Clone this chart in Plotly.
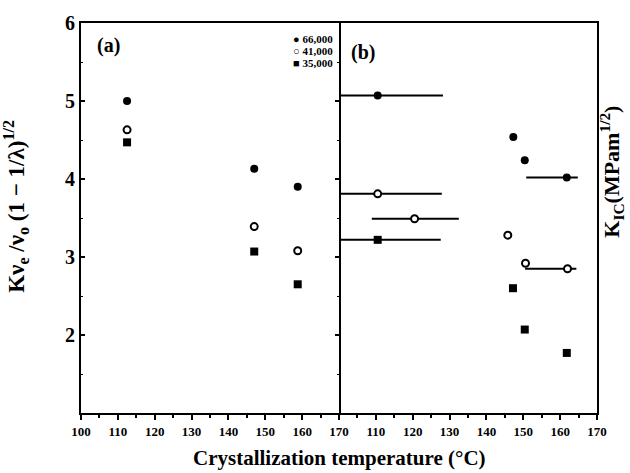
import plotly.graph_objects as go

# ---- data ----
series_names = ["66,000", "41,000", "35,000"]
series_symbols = ["circle", "circle", "square"]
series_fill = ["black", "white", "black"]

# panel (a)
a_x = {
    "66,000": [112.5, 147, 158.8],
    "41,000": [112.5, 147, 158.8],
    "35,000": [112.5, 147, 158.8],
}
a_y = {
    "66,000": [5.0, 4.13, 3.90],
    "41,000": [4.63, 3.39, 3.08],
    "35,000": [4.47, 3.07, 2.65],
}

# panel (b)
b_x = {
    "66,000": [110.5, 147.3, 150.4, 161.8],
    "41,000": [110.5, 120.5, 145.8, 150.6, 162.0],
    "35,000": [110.5, 147.2, 150.4, 161.8],
}
b_y = {
    "66,000": [5.07, 4.54, 4.24, 4.02],
    "41,000": [3.81, 3.49, 3.28, 2.92, 2.85],
    "35,000": [3.22, 2.60, 2.07, 1.77],
}

# horizontal range lines in panel (b)
seg_y = [5.07, 4.02, 3.81, 3.49, 2.85, 3.22]
seg_x0 = [100, 150.8, 100, 108.9, 150.5, 100]
seg_x1 = [128.2, 164.8, 127.9, 132.5, 164.4, 127.6]

x_ticks_a = [100, 110, 120, 130, 140, 150, 160, 170]
x_ticks_b = [110, 120, 130, 140, 150, 160, 170]
y_ticks = [2, 3, 4, 5, 6]

FONT = "Liberation Serif"
BLACK = "black"

fig = go.Figure()

for y0, x0, x1 in zip(seg_y, seg_x0, seg_x1):
    fig.add_trace(go.Scatter(x=[x0, x1], y=[y0, y0], mode="lines",
                             line=dict(color=BLACK, width=2),
                             xaxis="x2", yaxis="y2", showlegend=False,
                             hoverinfo="skip"))

for name, sym, fill in zip(series_names, series_symbols, series_fill):
    is_open = fill == "white"
    marker = dict(symbol=sym, size=7 if is_open else 8, color=fill,
                  line=dict(color=BLACK, width=2 if is_open else 0))
    fig.add_trace(go.Scatter(x=a_x[name], y=a_y[name], mode="markers",
                             marker=marker, name=name, showlegend=False,
                             xaxis="x", yaxis="y"))
    fig.add_trace(go.Scatter(x=b_x[name], y=b_y[name], mode="markers",
                             marker=marker, name=name, showlegend=False,
                             xaxis="x2", yaxis="y2"))

tickfont = dict(family=FONT, size=13, color=BLACK, weight="bold")
common_x = dict(range=[100, 170], showline=True, linewidth=2, linecolor=BLACK,
                mirror=True, ticks="outside", ticklen=5, tickwidth=2,
                tickcolor=BLACK, showgrid=False, zeroline=False,
                tickfont=tickfont,
                minor=dict(dtick=5, tick0=100, ticks="outside", ticklen=3,
                           tickwidth=1.5, tickcolor=BLACK, showgrid=False))
common_y = dict(range=[1, 6], linecolor=BLACK, ticklen=4, tickwidth=1.5,
                tickcolor=BLACK, showgrid=False, zeroline=False,
                tickvals=y_ticks)

fig.update_layout(
    width=630, height=473,
    margin=dict(l=81, r=33, t=17, b=60),
    paper_bgcolor="white", plot_bgcolor="white",
    showlegend=False,
    xaxis=dict(domain=[0, 0.5], anchor="y", tickvals=x_ticks_a, **common_x),
    xaxis2=dict(domain=[0.5, 1], anchor="y2", tickvals=x_ticks_b, **common_x),
    yaxis=dict(domain=[0, 1], anchor="x", showline=True, linewidth=2,
               mirror="ticks", ticks="inside",
               minor=dict(dtick=0.5, tick0=1, ticks="inside", ticklen=2,
                          tickwidth=1, tickcolor=BLACK, showgrid=False),
               tickfont=dict(family=FONT, size=20, color=BLACK, weight="bold"),
               **common_y),
    yaxis2=dict(domain=[0, 1], anchor="x2", side="right", showline=True,
                linewidth=2, mirror=False, ticks="", showticklabels=False,
                **common_y),
)

ann_font = dict(family=FONT, color=BLACK, weight="bold")
annotations = [
    dict(text="(a)", x=0.028, y=0.943, xref="paper", yref="paper",
         xanchor="left", yanchor="middle", showarrow=False,
         font=dict(size=20, **ann_font)),
    dict(text="(b)", x=0.52, y=0.925, xref="paper", yref="paper",
         xanchor="left", yanchor="middle", showarrow=False,
         font=dict(size=20, **ann_font)),
    dict(text="Crystallization temperature (°C)", x=0.5, y=-0.115,
         xref="paper", yref="paper", xanchor="center", yanchor="middle",
         showarrow=False, font=dict(size=21, **ann_font)),
    dict(text="Kν<sub>e</sub> /ν<sub>o</sub> (1 − 1/λ)<sup>1/2</sup>",
         x=-0.127, y=0.53, xref="paper", yref="paper", xanchor="center",
         yanchor="middle", textangle=-90, showarrow=False,
         font=dict(size=23, **ann_font)),
    dict(text="K<sub>IC</sub>(MPam<sup>1/2</sup>)",
         x=1.028, y=0.62, xref="paper", yref="paper", xanchor="center",
         yanchor="middle", textangle=-90, showarrow=False,
         font=dict(size=22, **ann_font)),
]
legend_syms = ["●", "○", "■"]
legend_y = [0.9595, 0.928, 0.8965]
for sym, name, ly in zip(legend_syms, series_names, legend_y):
    annotations.append(dict(text=sym + " " + name, x=0.492, y=ly,
                            xref="paper", yref="paper", xanchor="right",
                            yanchor="middle", showarrow=False, height=12,
                            font=dict(size=11, **ann_font)))
fig.update_layout(annotations=annotations)

fig.write_html("out.html")
